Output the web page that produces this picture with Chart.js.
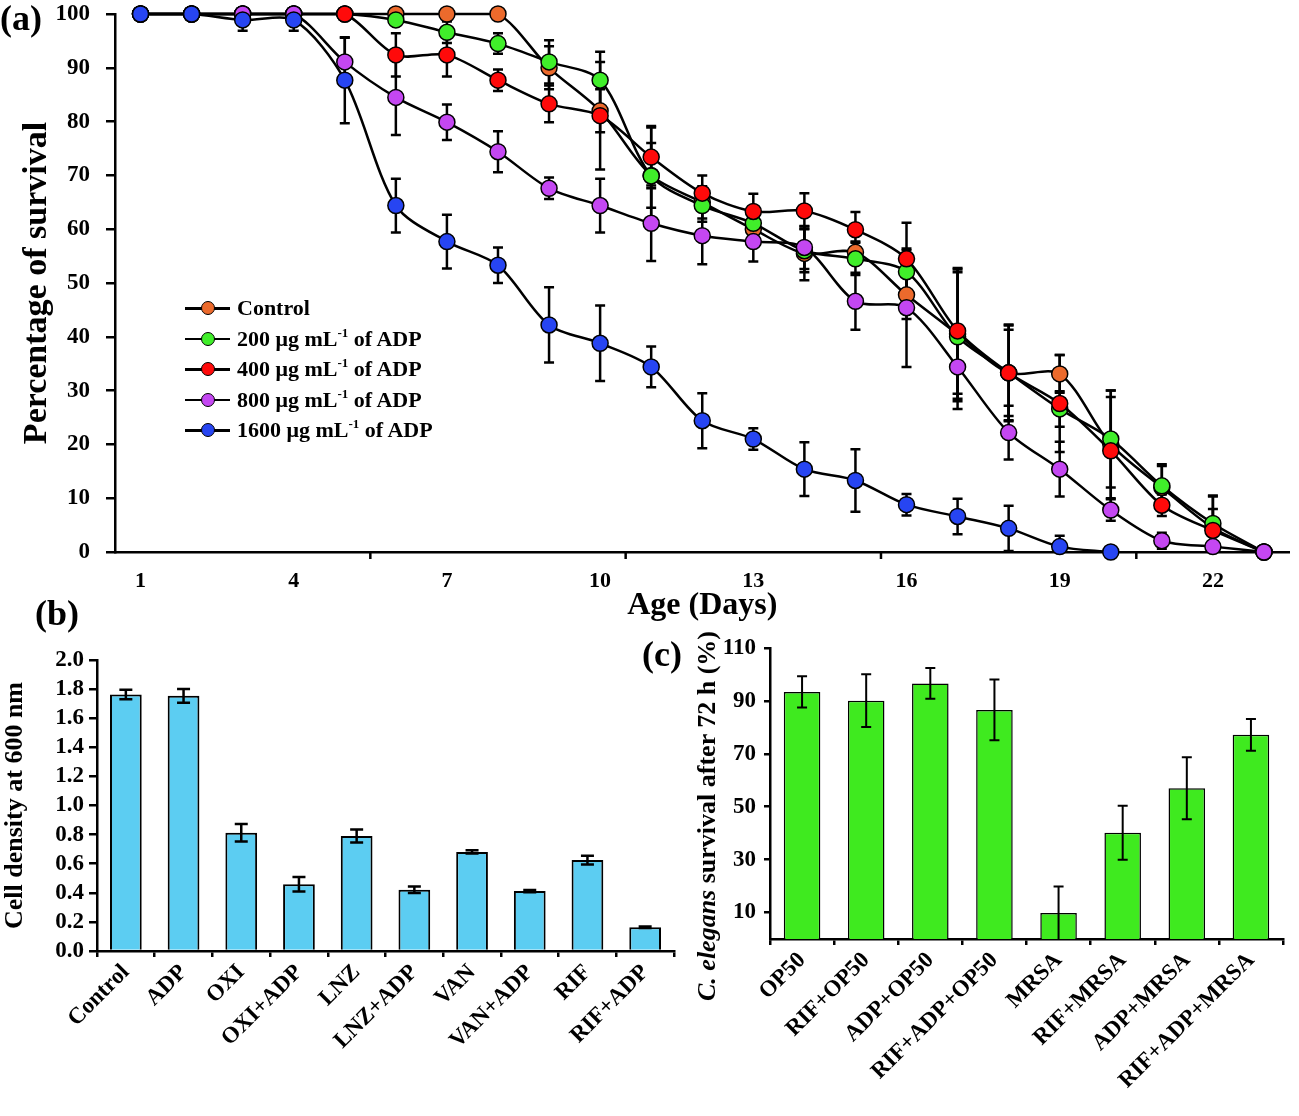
<!DOCTYPE html>
<html>
<head>
<meta charset="utf-8">
<title>ADP: survival and cell density</title>
<script src="https://cdn.jsdelivr.net/npm/chart.js@4.4.1/dist/chart.umd.min.js"></script>
<style>
  body { margin: 0; background: #fff; }
  #page { position: relative; width: 1299px; height: 1116px; overflow: hidden;
          font-family: "Liberation Serif", "Times New Roman", serif; font-weight: bold; color: #000; }
  .box { position: absolute; }
  .tag { position: absolute; font-size: 36px; line-height: 1; }
  #legendA { position: absolute; left: 185px; top: 296px; font-size: 22px; }
  #legendA .row { position: relative; height: 30.5px; line-height: 24px; white-space: nowrap; }
  #legendA .ln { position: absolute; left: 0; top: 11px; width: 45px; height: 2.5px; background: #000; }
  #legendA .dot { position: absolute; left: 16px; top: 5px; width: 14px; height: 14px; border-radius: 50%;
                  border: 1.2px solid #000; box-sizing: border-box; }
  #legendA .txt { position: absolute; left: 52px; top: 0; }
  sup { font-size: 13px; line-height: 0; vertical-align: 9px; }
  #titleC { position: absolute; left: 707px; top: 816px; transform: translate(-50%, -50%) rotate(-90deg);
            font-size: 26px; white-space: nowrap; }
</style>
</head>
<body>
<div id="page">
  <div class="box" style="left:0;top:0;width:1299px;height:625px"><canvas id="survA"></canvas></div>
  <div class="box" style="left:0;top:620px;width:700px;height:496px"><canvas id="densB"></canvas></div>
  <div class="box" style="left:640px;top:620px;width:659px;height:496px"><canvas id="survC"></canvas></div>
  <div class="tag" style="left:0;top:0">(a)</div>
  <div class="tag" style="left:35px;top:595px">(b)</div>
  <div class="tag" style="left:642px;top:636px">(c)</div>
  <div id="legendA"></div>
  <div id="titleC"><i>C. elegans</i> survival after 72 h (%)</div>
</div>
<script>
// (a) survival over time
const days = [1, 2, 3, 4, 5, 6, 7, 8, 9, 10, 11, 12, 13, 14, 15, 16, 17, 18, 19, 20, 21, 22, 23];
const dayTicks = [1, 4, 7, 10, 13, 16, 19, 22];
const dayMarks = [5.5, 10.5, 15.5, 20.5];

const controlSurv = [100, 100, 100, 100, 100, 100, 100, 100, 90, 82, 70, 65, 60, 55.5, 55.7, 47.8, 40.5, 33.3, 33.1, 20, 12, 4.5, 0];
const controlErr  = [0, 0, 0, 0, 0, 0, 0, 0, 4, 4, 6, 3, 3, 5, 2, 4.5, 12, 8, 3.5, 10, 4, 6, 0];
const adp200Surv  = [100, 100, 100, 100, 100, 98.9, 96.6, 94.5, 91.1, 87.7, 69.9, 64.4, 61.1, 56, 54.5, 52.1, 40, 33.3, 26.6, 21, 12.3, 5.3, 0];
const adp200Err   = [0, 0, 0, 0, 0, 1, 2, 1.9, 4, 5.3, 9, 3, 3, 4, 3, 4, 12, 9, 3.3, 9, 4, 5, 0];
const adp400Surv  = [100, 100, 100, 100, 100, 92.4, 92.4, 87.7, 83.3, 81.1, 73.4, 66.7, 63.3, 63.4, 59.9, 54.5, 41.1, 33.3, 27.6, 18.8, 8.7, 4, 0];
const adp400Err   = [0, 0, 0, 0, 0, 4, 4, 2, 3.4, 10, 5.8, 3.3, 3.3, 3.3, 3.3, 6.7, 11.7, 8.8, 9, 10, 2, 4, 0];
const adp800Surv  = [100, 100, 100, 100, 91.1, 84.5, 79.9, 74.4, 67.6, 64.4, 61.1, 58.8, 57.7, 56.6, 46.6, 45.4, 34.4, 22.2, 15.4, 7.8, 2.1, 1, 0];
const adp800Err   = [0, 0, 1, 1, 4.5, 7, 3.3, 3.8, 2, 5, 7, 5.3, 3.7, 4, 5.3, 11, 7.8, 5, 5.1, 2, 1.5, 0.5, 0];
const adp1600Surv = [100, 100, 98.9, 98.9, 87.7, 64.4, 57.7, 53.3, 42.2, 38.8, 34.4, 24.4, 21, 15.4, 13.3, 8.8, 6.6, 4.4, 1, 0, null, null, null];
const adp1600Err  = [0, 0, 2, 2, 8, 5, 5, 3.3, 7, 7, 3.8, 5.1, 2, 5, 5.8, 2, 3.3, 4.2, 2, 0, null, null, null];

const groupDoses  = ['', '200', '400', '800', '1600'];
const groupColors = ['#ec6a2c', '#40ee2a', '#ff0a0a', '#c447f2', '#2745f2'];

// (b) cell density
const treatB      = ['Control', 'ADP', 'OXI', 'OXI+ADP', 'LNZ', 'LNZ+ADP', 'VAN', 'VAN+ADP', 'RIF', 'RIF+ADP'];
const densityB    = [1.763, 1.754, 0.813, 0.459, 0.79, 0.421, 0.681, 0.412, 0.625, 0.163];
const densityErrB = [0.032, 0.047, 0.06, 0.05, 0.045, 0.022, 0.011, 0.008, 0.03, 0.005];
const densityTicksB = [0, 0.2, 0.4, 0.6, 0.8, 1.0, 1.2, 1.4, 1.6, 1.8, 2.0];

// (c) worm survival after 72 h
const treatC     = ['OP50', 'RIF+OP50', 'ADP+OP50', 'RIF+ADP+OP50', 'MRSA', 'RIF+MRSA', 'ADP+MRSA', 'RIF+ADP+MRSA'];
const survC      = [93.4, 90.1, 96.6, 86.6, 9.8, 40.2, 57, 77.2];
const survErrC   = [5.9, 10, 5.8, 11.5, 10, 10.2, 11.7, 6];
const survTicksC = [10, 30, 50, 70, 90, 110];

const FAMILY = '"Liberation Serif", "Times New Roman", serif';
const bold = size => ({ family: FAMILY, size: size, weight: 'bold' });

// error bars, from each dataset's "errors" list
function drawErrors(chart, opts) {
  const ctx = chart.ctx;
  ctx.save();
  ctx.strokeStyle = '#000';
  ctx.lineWidth = opts.width;
  chart.data.datasets.forEach((ds, i) => {
    if (!ds.errors) return;
    const meta = chart.getDatasetMeta(i);
    const yScale = chart.scales[meta.yAxisID];
    meta.data.forEach((el, j) => {
      const v = ds.data[j], e = ds.errors[j];
      if (v == null || !e) return;
      const hi = yScale.getPixelForValue(v + e);
      const lo = yScale.getPixelForValue(Math.max(v - e, 0));
      const h = opts.cap / 2;
      ctx.beginPath();
      ctx.moveTo(el.x, hi); ctx.lineTo(el.x, lo);
      ctx.moveTo(el.x - h, hi); ctx.lineTo(el.x + h, hi);
      if (v - e > 0) { ctx.moveTo(el.x - h, lo); ctx.lineTo(el.x + h, lo); }
      ctx.stroke();
    });
  });
  ctx.restore();
}
const errorBars = {
  id: 'errorBars',
  beforeDatasetsDraw(chart, args, opts) { if (!opts.onTop) drawErrors(chart, opts); },
  afterDatasetsDraw(chart, args, opts) { if (opts.onTop) drawErrors(chart, opts); }
};

// tick marks on the day axis sit between the labels
const dayTickMarks = {
  id: 'dayTickMarks',
  afterDraw(chart) {
    const xs = chart.scales.x, ctx = chart.ctx, y0 = chart.chartArea.bottom;
    ctx.save();
    ctx.strokeStyle = '#000';
    ctx.lineWidth = 2.5;
    dayMarks.forEach(d => {
      const px = xs.getPixelForValue(d);
      ctx.beginPath(); ctx.moveTo(px, y0); ctx.lineTo(px, y0 + 7); ctx.stroke();
    });
    ctx.restore();
  }
};

const axisLine = { display: true, color: '#000', width: 2.5 };
// fixed axis width, and no extra room above/below for the end labels
const fixWidth = w => s => { s.width = w; s.paddingTop = 0; s.paddingBottom = 0; };

// ---- (a) ----
const seriesA = [
  [controlSurv, controlErr], [adp200Surv, adp200Err], [adp400Surv, adp400Err],
  [adp800Surv, adp800Err], [adp1600Surv, adp1600Err]
];
const labelA = d => d ? d + ' μg mL-1 of ADP' : 'Control';

new Chart(document.getElementById('survA'), {
  type: 'line',
  data: {
    labels: days,
    datasets: seriesA.map(([vals, err], k) => ({
      label: labelA(groupDoses[k]),
      data: vals,
      errors: err,
      borderColor: '#000',
      borderWidth: 2.5,
      pointBackgroundColor: groupColors[k],
      pointBorderColor: '#000',
      pointBorderWidth: 1.5,
      pointRadius: 8,
      tension: 0.3,
      clip: false,
      order: seriesA.length - k
    }))
  },
  options: {
    responsive: true,
    maintainAspectRatio: false,
    animation: false,
    layout: { padding: { left: 0, top: 14, right: 6, bottom: 0 } },
    plugins: {
      legend: { display: false },
      tooltip: { enabled: false },
      errorBars: { cap: 10, width: 2.5, onTop: false }
    },
    scales: {
      x: {
        type: 'linear', min: 0.5, max: 23.5,
        afterBuildTicks: s => { s.ticks = dayTicks.map(v => ({ value: v })); },
        afterFit: s => { s.height = 73; },
        grid: { display: false },
        border: axisLine,
        ticks: { color: '#000', font: bold(22), padding: 8, maxRotation: 0, autoSkip: false },
        title: { display: true, text: 'Age (Days)', color: '#000', font: bold(32), padding: 0 }
      },
      y: {
        min: 0, max: 100,
        afterFit: fixWidth(115),
        grid: { drawOnChartArea: false, drawTicks: true, tickLength: 9, color: '#000', lineWidth: 2.5 },
        border: axisLine,
        ticks: { stepSize: 10, color: '#000', font: bold(23), padding: 16 },
        title: { display: true, text: 'Percentage of survival', color: '#000', font: bold(34), padding: { top: 17, bottom: 0 } }
      }
    }
  },
  plugins: [errorBars, dayTickMarks]
});

// legend of (a), as page text so the superscript stays real text
const legendA = document.getElementById('legendA');
groupDoses.forEach((d, k) => {
  const row = document.createElement('div');
  row.className = 'row';
  const text = d ? d + ' μg mL<sup>-1</sup> of ADP' : 'Control';
  row.innerHTML = '<span class="ln"></span><span class="dot" style="background:' + groupColors[k] +
                  '"></span><span class="txt">' + text + '</span>';
  legendA.appendChild(row);
});

// ---- (b) ----
new Chart(document.getElementById('densB'), {
  type: 'bar',
  data: {
    labels: treatB,
    datasets: [{
      data: densityB,
      errors: densityErrB,
      backgroundColor: '#5ccdf2',
      borderColor: '#000',
      borderWidth: 2,
      categoryPercentage: 1,
      barPercentage: 0.55
    }]
  },
  options: {
    responsive: true,
    maintainAspectRatio: false,
    animation: false,
    layout: { padding: { left: 0, top: 40, right: 26, bottom: 0 } },
    plugins: {
      legend: { display: false },
      tooltip: { enabled: false },
      errorBars: { cap: 13, width: 2.5, onTop: true }
    },
    scales: {
      x: {
        afterFit: s => { s.height = 165; },
        grid: { drawOnChartArea: false, drawTicks: true, tickLength: 6, color: '#000', lineWidth: 2.5 },
        border: axisLine,
        ticks: { color: '#000', font: bold(23), minRotation: 45, maxRotation: 45, autoSkip: false, padding: 2 }
      },
      y: {
        min: 0, max: 2,
        afterBuildTicks: s => { s.ticks = densityTicksB.map(v => ({ value: v })); },
        afterFit: fixWidth(97),
        grid: { drawOnChartArea: false, drawTicks: true, tickLength: 8, color: '#000', lineWidth: 2.5 },
        border: axisLine,
        ticks: { color: '#000', font: bold(23), padding: 5, autoSkip: false, callback: v => v.toFixed(1) },
        title: { display: true, text: 'Cell density at 600 nm', color: '#000', font: bold(26), padding: 0 }
      }
    }
  },
  plugins: [errorBars]
});

// ---- (c) ----
new Chart(document.getElementById('survC'), {
  type: 'bar',
  data: {
    labels: treatC,
    datasets: [{
      data: survC,
      errors: survErrC,
      backgroundColor: '#3fea1f',
      borderColor: '#000',
      borderWidth: 1.5,
      categoryPercentage: 1,
      barPercentage: 0.57
    }]
  },
  options: {
    responsive: true,
    maintainAspectRatio: false,
    animation: false,
    layout: { padding: { left: 0, top: 28, right: 16, bottom: 0 } },
    plugins: {
      legend: { display: false },
      tooltip: { enabled: false },
      errorBars: { cap: 10, width: 2, onTop: true }
    },
    scales: {
      x: {
        afterFit: s => { s.height = 177; },
        grid: { drawOnChartArea: false, drawTicks: true, tickLength: 6, color: '#000', lineWidth: 2.5 },
        border: axisLine,
        ticks: { color: '#000', font: bold(23), minRotation: 45, maxRotation: 45, autoSkip: false, padding: 2 }
      },
      y: {
        min: 0, max: 110,
        afterBuildTicks: s => { s.ticks = survTicksC.map(v => ({ value: v })); },
        afterFit: fixWidth(130),
        grid: { drawOnChartArea: false, drawTicks: true, tickLength: 6, color: '#000', lineWidth: 2.5 },
        border: axisLine,
        ticks: { color: '#000', font: bold(23), padding: 8, autoSkip: false }
      }
    }
  },
  plugins: [errorBars]
});
</script>
</body>
</html>
